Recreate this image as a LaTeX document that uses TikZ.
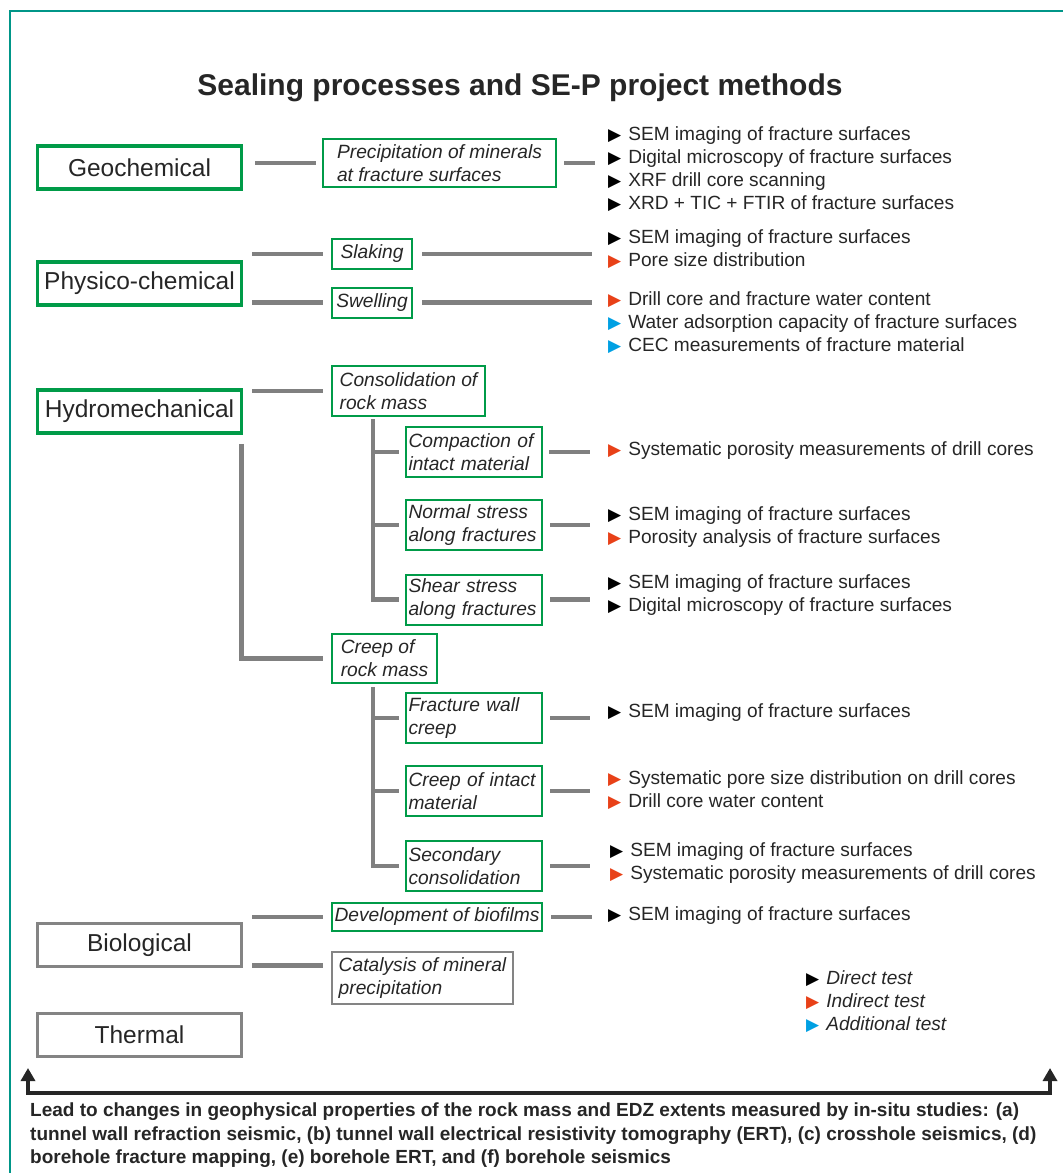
\documentclass[tikz,border=0pt]{standalone}
\usepackage{fontspec}
\setmainfont{Liberation Sans}
\newfontfamily\symfont{DejaVu Sans}
\usetikzlibrary{arrows.meta, positioning, calc}

\definecolor{boxgreen}{RGB}{0,155,72}
\definecolor{linegray}{RGB}{128,128,128}
\definecolor{boxgray}{RGB}{132,132,132}
\definecolor{testred}{RGB}{232,65,24}
\definecolor{testblue}{RGB}{0,160,227}
\definecolor{frameteal}{RGB}{0,150,136}
\definecolor{txtdark}{RGB}{38,38,38}

\newcommand{\directmark}{{\symfont\fontsize{17}{17}\selectfont\color{black}▶}\hspace{7pt}}
\newcommand{\indirectmark}{{\symfont\fontsize{17}{17}\selectfont\color{testred}▶}\hspace{7pt}}
\newcommand{\addmark}{{\symfont\fontsize{17}{17}\selectfont\color{testblue}▶}\hspace{7pt}}

\begin{document}
\begin{tikzpicture}[x=1pt, y=-1pt,
    mainbox/.style={rectangle, draw=boxgreen, line width=3.5pt, minimum width=204pt, minimum height=43pt, font=\fontsize{24.5}{28}\selectfont, text=txtdark},
    mainboxgray/.style={mainbox, draw=boxgray},
    subbox/.style={rectangle, draw=boxgreen, line width=2pt, inner xsep=6pt, inner ysep=3pt, align=left, font=\fontsize{19.2}{23}\selectfont\itshape, text=txtdark},
    subboxgray/.style={subbox, draw=boxgray},
    leafbox/.style={subbox, text width=131pt, inner xsep=2.5pt, minimum height=50pt, execute at begin node={\hyphenpenalty=10000}},
    link/.style={draw=linegray, line width=4.5pt},
    testlist/.style={anchor=west, align=left, inner sep=0pt, font=\fontsize{19.1}{23}\selectfont, text=txtdark},
    bigarrow/.style={draw=txtdark, line width=4pt, {Triangle[width=14pt,length=13pt]}-{Triangle[width=14pt,length=13pt]}}
]
\useasboundingbox (0,0) rectangle (1063,1173);

% Frame
\draw[frameteal, line width=2pt] (10,1173) -- (10,11) -- (1063,11);

% Title
\node[font=\fontsize{30}{34}\selectfont\bfseries, text=txtdark] (title) at (520,88) {Sealing processes and SE-P project methods};

% Processes
\node[mainbox] (geo) at (139.5,167.5) {Geochemical\hspace{10pt}};
\node[mainbox] (phys) at (139.5,283.5) {Physico-chemical};
\node[mainbox] (hydro) at (139.5,411.5) {Hydromechanical};
\node[mainboxgray] (bio) at (139.5,945) {Biological\hspace{6pt}};
\node[mainboxgray] (therm) at (139.5,1035) {Thermal};

% Mechanisms
\node[subbox, minimum width=233pt, minimum height=48pt] (precip) at (439.5,163) {Precipitation of minerals\\at fracture surfaces};
\node[subbox, minimum width=80pt, minimum height=30pt, inner xsep=4pt] (slak) at (372,254) {Slaking};
\node[subbox, minimum width=80pt, minimum height=30pt, inner xsep=4pt] (swel) at (372,302.5) {Swelling};
\node[subbox, minimum width=153pt, minimum height=50pt] (consol) at (408.5,391) {Consolidation of\\rock mass};
\node[subbox, minimum width=105pt, minimum height=49pt] (creep) at (384.5,658.5) {Creep of\\rock mass};
\node[subbox, minimum width=210pt, minimum height=28pt, inner xsep=3pt] (biofilm) at (437,917) {Development of biofilms};
\node[subboxgray, minimum width=181pt, minimum height=52pt] (catal) at (422.5,978) {Catalysis of mineral\\precipitation};

\node[leafbox] (compac) at (474,452) {Compaction of\\intact material};
\node[leafbox] (normal) at (474,525) {Normal stress\\along fractures};
\node[leafbox] (shear) at (474,599.5) {Shear stress\\along fractures};
\node[leafbox] (fwall) at (474,718) {Fracture wall\\creep};
\node[leafbox] (cintact) at (474,791) {Creep of intact\\material};
\node[leafbox] (second) at (474,866) {Secondary\\consolidation};

% Methods
\node[testlist] (geolist) at (608,169) {\directmark SEM imaging of fracture surfaces\\\directmark Digital microscopy of fracture surfaces\\\directmark XRF drill core scanning\\\directmark XRD + TIC + FTIR of fracture surfaces};
\node[testlist] (slaklist) at (608,249.5) {\directmark SEM imaging of fracture surfaces\\\indirectmark Pore size distribution};
\node[testlist] (swellist) at (608,323) {\indirectmark Drill core and fracture water content\\\addmark Water adsorption capacity of fracture surfaces\\\addmark CEC measurements of fracture material};
\node[testlist] (compaclist) at (608,451) {\indirectmark Systematic porosity measurements of drill cores};
\node[testlist] (normlist) at (608,527.5) {\directmark SEM imaging of fracture surfaces\\\indirectmark Porosity analysis of fracture surfaces};
\node[testlist] (shearlist) at (608,595.5) {\directmark SEM imaging of fracture surfaces\\\directmark Digital microscopy of fracture surfaces};
\node[testlist] (fwalllist) at (608,713) {\directmark SEM imaging of fracture surfaces};
\node[testlist] (cintlist) at (608,790.5) {\indirectmark Systematic pore size distribution on drill cores\\\indirectmark Drill core water content};
\node[testlist] (secondlist) at (610,863.5) {\directmark SEM imaging of fracture surfaces\\\indirectmark Systematic porosity measurements of drill cores};
\node[testlist] (biolist) at (608,916) {\directmark SEM imaging of fracture surfaces};

% Legend
\node[testlist, font=\fontsize{19.1}{23}\selectfont\itshape] (legend) at (806,1002) {\directmark Direct test\\\indirectmark Indirect test\\\addmark Additional test};

% Links to mechanisms
\draw[link, shorten <=12pt, shorten >=6pt] (geo.east |- precip) -- (precip.west);
\draw[link, shorten <=9pt, shorten >=8pt] (phys.east |- slak) -- (slak.west);
\draw[link, shorten <=9pt, shorten >=8pt] (phys.east |- swel) -- (swel.west);
\draw[link, shorten <=9pt, shorten >=8pt] (hydro.east |- consol) -- (consol.west);
\draw[link, shorten <=9pt, shorten >=8pt] ([xshift=-2pt]hydro.south east) |- (creep.west);
\draw[link, shorten <=9pt, shorten >=8pt] (bio.east |- biofilm) -- (biofilm.west);
\coordinate (biolow) at ([yshift=3pt]bio.south east);
\draw[link, shorten <=9pt, shorten >=8pt] (biolow) -- (biolow -| catal.west);

% Sub-mechanism trees
\coordinate (consoltrunk) at ([xshift=42pt]consol.south west);
\draw[link, shorten <=2pt, shorten >=6pt] (consoltrunk) |- (shear.west);
\draw[link, shorten >=6pt] (consoltrunk |- compac) -- (compac.west);
\draw[link, shorten >=6pt] (consoltrunk |- normal) -- (normal.west);
\coordinate (creeptrunk) at ([xshift=42pt]creep.south west);
\draw[link, shorten <=3pt, shorten >=6pt] (creeptrunk) |- (second.west);
\draw[link, shorten >=6pt] (creeptrunk |- fwall) -- (fwall.west);
\draw[link, shorten >=6pt] (creeptrunk |- cintact) -- (cintact.west);

% Links to methods
\draw[link, shorten <=7pt, shorten >=13pt] (precip.east) -- (precip.east -| geolist.west);
\draw[link, shorten <=9pt, shorten >=16pt] (slak.east) -- (slak.east -| slaklist.west);
\draw[link, shorten <=9pt, shorten >=16pt] (swel.east) -- (swel.east -| swellist.west);
\draw[link, shorten <=6pt, shorten >=18pt] (compac.east) -- (compac.east -| compaclist.west);
\draw[link, shorten <=7pt, shorten >=18pt] (normal.east) -- (normal.east -| normlist.west);
\draw[link, shorten <=7pt, shorten >=18pt] (shear.east) -- (shear.east -| shearlist.west);
\draw[link, shorten <=7pt, shorten >=18pt] (fwall.east) -- (fwall.east -| fwalllist.west);
\draw[link, shorten <=7pt, shorten >=18pt] (cintact.east) -- (cintact.east -| cintlist.west);
\draw[link, shorten <=7pt, shorten >=20pt] (second.east) -- (second.east -| secondlist.west);
\draw[link, shorten <=8pt, shorten >=16pt] (biofilm.east) -- (biofilm.east -| biolist.west);

% Geophysical consequences
\coordinate (leftend) at (28,1068);
\coordinate (leftfoot) at (28,1093);
\coordinate (rightfoot) at (1050,1093);
\coordinate (rightend) at (1050,1068);
\draw[bigarrow] (leftend) -- (leftfoot) -- (rightfoot) -- (rightend);
\node[anchor=north west, align=left, inner sep=0pt, font=\fontsize{19}{23.5}\selectfont\bfseries, text=txtdark] (summary) at (30,1103) {Lead to changes in geophysical properties of the rock mass and EDZ extents measured by in-situ studies: (a)\\tunnel wall refraction seismic, (b) tunnel wall electrical resistivity tomography (ERT), (c) crosshole seismics, (d)\\borehole fracture mapping, (e) borehole ERT, and (f) borehole seismics};

\end{tikzpicture}
\end{document}
